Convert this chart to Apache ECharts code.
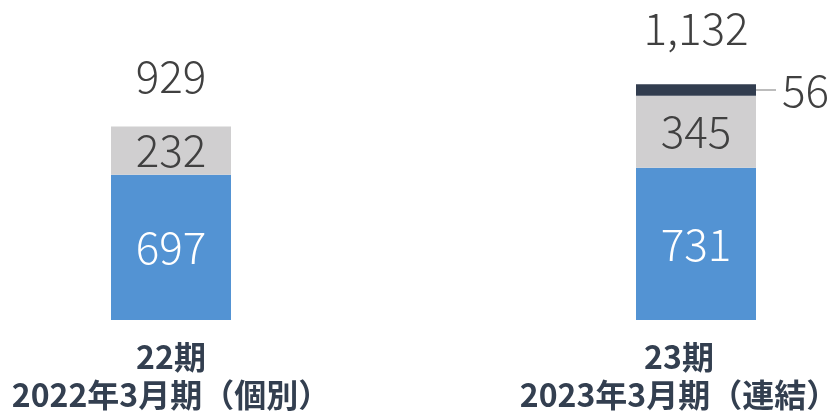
<!DOCTYPE html>
<html><head><meta charset="utf-8">
<script src="https://cdn.jsdelivr.net/npm/echarts@6/dist/echarts.min.js"></script>
<style>html,body{margin:0;padding:0;background:#fff}#c{width:833px;height:414px}</style>
</head><body><div id="c"></div>
<script>
const categories = ['22期\n2022年3月期（個別）', '23期\n2023年3月期（連結）'];
const blueValues = [697, 731];
const grayValues = [232, 345];
const darkValues = [null, 56];
const totals = [929, 1132];

const valFont = '"Noto Sans CJK JP", Roboto, sans-serif';
const totalDist = [28, 34];
const labelPad = [[0, 0, 0, 0], [0, 34, 0, 0]];
const chart = echarts.init(document.getElementById('c'), null, {renderer: 'canvas'});
chart.setOption({
  animation: false,
  grid: {left: 171, right: 137, top: 70, bottom: 94, containLabel: false, outerBoundsMode: 'none'},
  xAxis: {
    type: 'category', boundaryGap: false,
    data: categories.map((c, i) => ({value: c, textStyle: {padding: labelPad[i]}})),
    axisLine: {show: false}, axisTick: {show: false}, splitLine: {show: false},
    axisLabel: {
      color: '#333F50', fontWeight: 'bold', fontSize: 32, lineHeight: 38,
      fontFamily: '"Noto Sans CJK JP", sans-serif', margin: 18, hideOverlap: false
    }
  },
  yAxis: {type: 'value', min: 0, max: 1200, show: false, splitLine: {show: false}},
  series: [
    {type: 'bar', stack: 's', data: blueValues, barWidth: 120, itemStyle: {color: '#5393D3'},
     label: {show: true, position: 'inside', color: '#fff', fontSize: 44, fontWeight: 300, fontFamily: valFont}},
    {type: 'bar', stack: 's', data: grayValues, itemStyle: {color: '#D0CFD0'},
     label: {show: true, position: 'inside', color: '#404040', fontSize: 44, fontWeight: 300, fontFamily: valFont}},
    {type: 'bar', stack: 's', data: darkValues, itemStyle: {color: '#323D4F'},
     label: {show: true, position: 'right', distance: 0, color: '#404040', fontSize: 44, fontWeight: 300, fontFamily: valFont,
       formatter: p => '{l|}{v|' + p.value + '}',
       rich: {l: {width: 20, height: 1.5, backgroundColor: '#A6A6A6'}, v: {fontSize: 44, fontWeight: 300, fontFamily: valFont, color: '#404040', padding: [0,0,0,6]}}}},
    {type: 'scatter', symbolSize: 0, itemStyle: {color: '#404040', opacity: 1},
     data: totals.map((v, i) => ({value: v, label: {distance: totalDist[i]}})),
     label: {show: true, position: 'top', color: '#404040', fontSize: 44, fontWeight: 300, fontFamily: valFont,
       formatter: p => p.value.toLocaleString('en-US')}}
  ]
});
</script></body></html>
